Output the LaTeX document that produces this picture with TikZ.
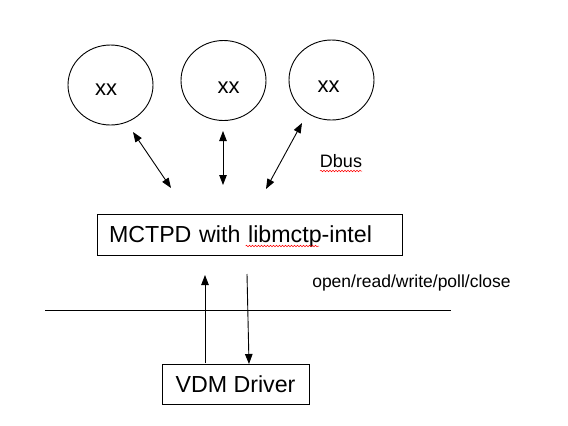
\documentclass[tikz,border=0pt]{standalone}
\usepackage{fontspec}
\setmainfont{Liberation Sans}
\usetikzlibrary{arrows.meta,shapes.geometric,decorations.pathmorphing}
\begin{document}
\begin{tikzpicture}[x=1pt,y=-1pt,
  circ/.style={draw, line width=0.9pt, ellipse, minimum width=85pt, minimum height=80pt, inner sep=0pt},
  xxl/.style={font=\fontsize{22}{26}\selectfont, inner sep=0pt},
  boxn/.style={draw, line width=1pt, rectangle, font=\fontsize{23.2}{28}\selectfont, text depth=0pt},
  lbl/.style={font=\fontsize{17.5}{21}\selectfont, inner sep=0pt},
  tip/.style={Triangle[length=10pt,width=7.5pt]},
  arr/.style={line width=0.9pt, -{Triangle[length=10pt,width=7.5pt]}},
  darr/.style={line width=0.9pt, {Triangle[length=10pt,width=7.5pt]}-{Triangle[length=10pt,width=7.5pt]}},
  squig/.style={red, line width=0.5pt, decorate, decoration={snake, amplitude=0.8pt, segment length=3pt}}
]
\fill[white] (0,0) rectangle (568,426);
\useasboundingbox (0,0) rectangle (568,426);

% server circles
\node[circ, label={[xxl, xshift=-4.5pt, yshift=-4.5pt]center:xx}] (c1) at (110.5,85) {};
\node[circ, label={[xxl, xshift=5pt, yshift=-7.5pt]center:xx}] (c2) at (223.5,80.5) {};
\node[circ, label={[xxl, xshift=-3pt, yshift=-6.5pt]center:xx}] (c3) at (331.5,80) {};

% boxes
\node[boxn, minimum height=41pt, text width=281pt, inner xsep=12pt, align=left] (mctpd) at (249.5,234.5) {MCTPD with libmctp-intel};
\node[boxn, minimum width=147pt, minimum height=40pt, inner sep=0pt] (vdm) at (235.5,384) {VDM Driver};

% labels
\node[font=\fontsize{18}{22}\selectfont, inner sep=0pt, anchor=base] (dbus) at (341,167.5) {Dbus};
\node[lbl] (ops) at (411.5,283) {open/read/write/poll/close};

% coordinates for free connector ends
\coordinate (a1s) at (133,132); \coordinate (a1e) at (171,188);
\coordinate (a2s) at (223,131); \coordinate (a2e) at (223,185);
\coordinate (a3s) at (302,123); \coordinate (a3e) at (266,189);
\coordinate (ups) at (205,363); \coordinate (upe) at (205,275);
\coordinate (dns) at (247,274); \coordinate (dne) at (249,364);
\coordinate (hl1) at (45,310); \coordinate (hl2) at (451,310);
\coordinate (sqa) at (245.6,246); \coordinate (sqb) at (319,246);
\coordinate (sqc) at (320,171); \coordinate (sqd) at (362,171);

% connectors
\draw[darr] (a1s) -- (a1e);
\draw[darr] (a2s) -- (a2e);
\draw[darr] (a3s) -- (a3e);
\draw[arr] (ups) -- (upe);
\draw[arr] (dns) -- (dne);
\draw[line width=0.9pt] (hl1) -- (hl2);

% spell-check squiggles
\draw[squig] (sqa) -- (sqb);
\draw[squig] (sqc) -- (sqd);
\end{tikzpicture}
\end{document}
